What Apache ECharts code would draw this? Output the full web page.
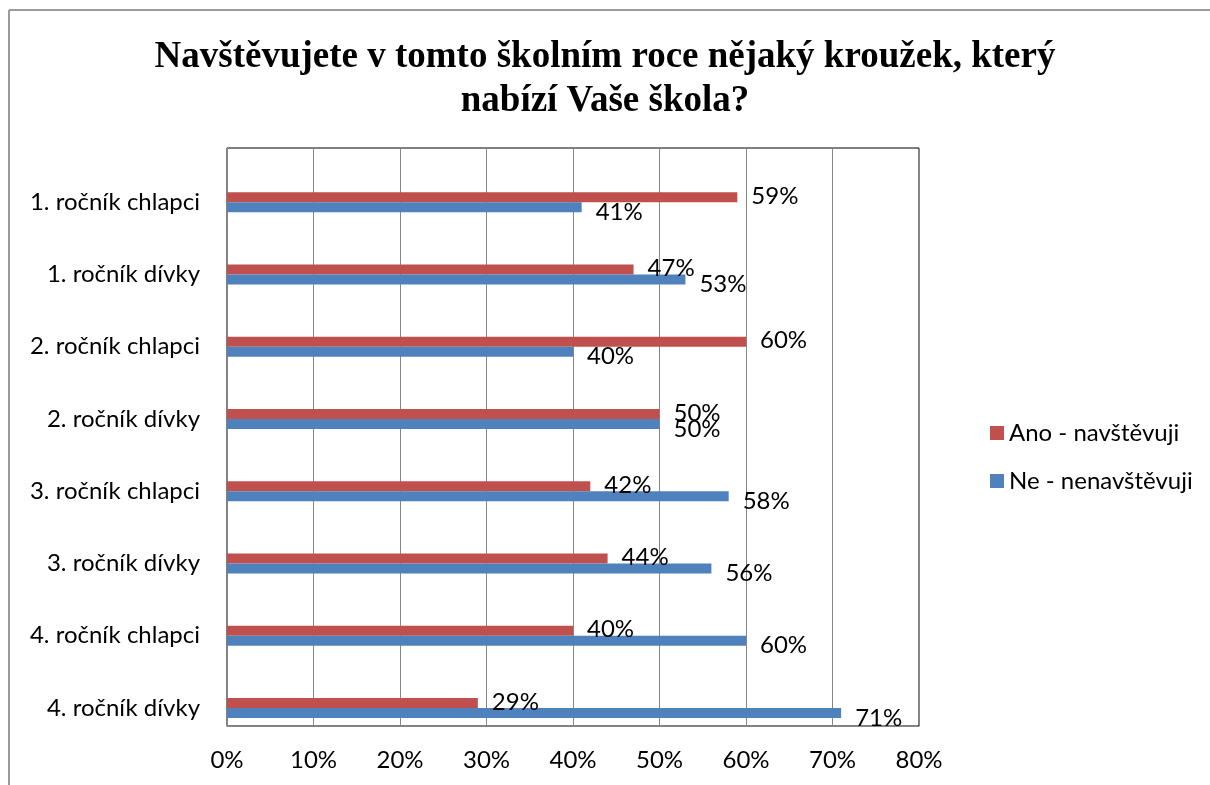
<!DOCTYPE html>
<html>
<head>
<meta charset="utf-8">
<title>Kroužek</title>
<script src="https://cdn.jsdelivr.net/npm/echarts@6/dist/echarts.min.js"></script>
<style>
    html, body {
        margin: 0;
        padding: 0;
        background: #fff;
    }
    #chart {
        width: 1210px;
        height: 785px;
    }
</style>
</head>
<body>
<div id="chart"></div>
<script>
// data
var categories = ['1. ročník chlapci', '1. ročník dívky', '2. ročník chlapci', '2. ročník dívky',
    '3. ročník chlapci', '3. ročník dívky', '4. ročník chlapci', '4. ročník dívky']
var anoValues = [59, 47, 60, 50, 42, 44, 40, 29]
var neValues = [41, 53, 40, 50, 58, 56, 60, 71]
var seriesNames = ['Ano - navštěvuji', 'Ne - nenavštěvuji']
var axisMin = 0
var axisMax = 80
var axisStep = 10

var font = 'Lato, "Open Sans", sans-serif'
var chart = echarts.init(document.getElementById('chart'))

chart.setOption({
    animation: false,
    title: {
        text: 'Navštěvujete v tomto školním roce nějaký kroužek, který\nnabízí Vaše škola?',
        left: 'center',
        top: 30,
        textStyle: {
            fontFamily: '"Liberation Serif", serif',
            fontWeight: 'bold',
            fontSize: 37,
            lineHeight: 44,
            color: '#000'
        }
    },
    legend: {
        orient: 'vertical',
        left: 985,
        top: 416,
        itemWidth: 14,
        itemHeight: 14,
        itemGap: 24,
        icon: 'rect',
        data: seriesNames,
        textStyle: { fontFamily: font, fontSize: 24, color: '#000' }
    },
    graphic: [
        { type: 'line', shape: { x1: 9, y1: 10, x2: 1210, y2: 10 }, style: { stroke: '#9a9a9a', lineWidth: 2 } },
        { type: 'line', shape: { x1: 9, y1: 10, x2: 9, y2: 785 }, style: { stroke: '#9a9a9a', lineWidth: 2 } }
    ],
    // grid 0: frame + gridlines, grid 1: bars (shifted down like the original)
    grid: [
        { left: 227, top: 148, width: 692, height: 578, show: true, borderColor: '#000', borderWidth: 1 },
        { left: 227, top: 166, width: 692, height: 578 }
    ],
    xAxis: [{
        type: 'value',
        gridIndex: 0,
        min: axisMin,
        max: axisMax,
        interval: axisStep,
        axisLine: { show: true, lineStyle: { color: '#868686' } },
        axisTick: { show: false },
        splitLine: { lineStyle: { color: '#868686', width: 1 } },
        axisLabel: { formatter: '{value}%', fontFamily: font, fontSize: 24, color: '#000', margin: 22 }
    }, {
        type: 'value',
        gridIndex: 1,
        min: axisMin,
        max: axisMax,
        show: false
    }],
    yAxis: [{
        type: 'category',
        gridIndex: 0,
        data: categories,
        inverse: true,
        axisLine: { show: true, lineStyle: { color: '#868686' } },
        axisTick: { show: false },
        axisLabel: { show: false }
    }, {
        type: 'category',
        gridIndex: 1,
        data: categories,
        inverse: true,
        axisLine: { show: false },
        axisTick: { show: false },
        axisLabel: { fontFamily: font, fontSize: 24, color: '#000', margin: 27 }
    }],
    series: [{
        name: seriesNames[0],
        type: 'bar',
        xAxisIndex: 1,
        yAxisIndex: 1,
        barWidth: 10,
        barGap: '0%',
        itemStyle: { color: '#C0504D' },
        label: {
            show: true, position: 'right', distance: 14, offset: [0, -1],
            formatter: '{c}%', fontFamily: font, fontSize: 24, color: '#000'
        },
        data: anoValues
    }, {
        name: seriesNames[1],
        type: 'bar',
        xAxisIndex: 1,
        yAxisIndex: 1,
        barWidth: 10,
        barGap: '0%',
        itemStyle: { color: '#4F81BD' },
        label: {
            show: true, position: 'right', distance: 14, offset: [0, 5],
            formatter: '{c}%', fontFamily: font, fontSize: 24, color: '#000'
        },
        data: neValues
    }]
})
</script>
</body>
</html>
